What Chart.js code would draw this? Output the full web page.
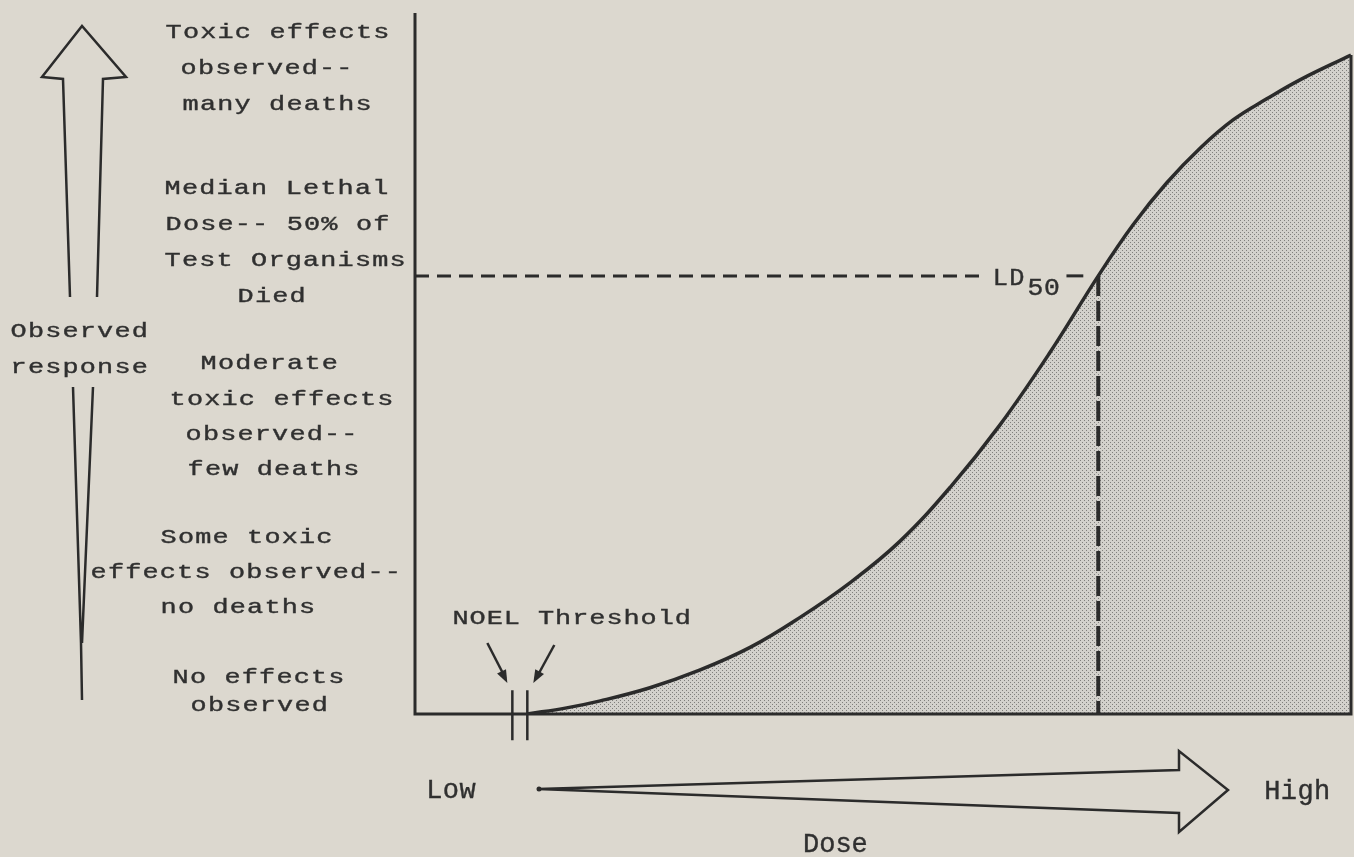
<!DOCTYPE html>
<html>
<head>
<meta charset="utf-8">
<title>Dose-response curve</title>
<script src="https://cdn.jsdelivr.net/npm/chart.js@4.4.1/dist/chart.umd.min.js"></script>
<style>
html,body{margin:0;padding:0;background:#dcd8cf;}
#wrap{position:relative;width:1354px;height:857px;}
</style>
</head>
<body>
<div id="wrap"><canvas id="chart"></canvas></div>
<script>
const doseValues=[12.0,16.2,19.8,25.1,30.4,35.8,41.1,46.5,51.8,57.2,62.5,67.8,73.0,76.7,80.3,83.9,87.4,91.0,94.6,100];
const responseValues=[0,0.7,1.5,3.0,5.0,7.6,11.0,15.0,19.7,25.9,33.0,41.2,50.0,55.8,60.6,64.6,67.8,70.2,72.4,75.2];
const ld50Dose=73.0, ld50Response=50;
const ld50Gap=[60.6,69.6,71.4]; // dashed line stops for the label, then a short dash
const noelDoses=[10.4,12.0];
const noelMarkSpan=[2.7,-3.0];
const doseMax=100, responseMax=80;

const responseLevels=[
  ['Toxic effects','observed--','many deaths'],
  ['Median Lethal','Dose-- 50% of','Test Organisms','Died'],
  ['Moderate','toxic effects','observed--','few deaths'],
  ['Some toxic','effects observed--','no deaths'],
  ['No effects','observed']
];
const yTitle=['Observed','response'];
const xTitle='Dose', xEnds=['Low','High'];
const noelLabel='NOEL Threshold';

const ink='#2b2b2b', textInk='#303030';
const mono='"Liberation Mono","DejaVu Sans Mono",monospace';

function stipple(){
  const c=document.createElement('canvas'); c.width=4; c.height=4;
  const g=c.getContext('2d');
  g.fillStyle='#d3d1cc'; g.fillRect(0,0,4,4);
  g.fillStyle='#807f7c'; g.fillRect(0,0,1,1); g.fillRect(2,2,1,1);
  return g.createPattern(c,'repeat');
}

// typewriter: fixed cell per character, glyphs a bit wider than the font's own
function typeLine(ctx,s,left,base,adv,sx){
  for(let i=0;i<s.length;i++){
    ctx.save();
    ctx.translate(left+adv/2-2+i*adv, base);
    ctx.scale(sx||1,1);
    ctx.fillText(s[i],0,0);
    ctx.strokeText(s[i],0,0);
    ctx.restore();
  }
}

// left x / baseline of each line of the level labels
const levelPos=[
  [[167,38],[182,74],[184,110]],
  [[166,194],[167,230],[166,266],[239,302]],
  [[202,369],[171,405],[187,440],[189,475]],
  [[162,543],[92,578],[162,613]],
  [[174,683],[192,711]]
];

function arrowHead(ctx,x0,y0,x1,y1,len,half){
  const a=Math.atan2(y1-y0,x1-x0);
  ctx.beginPath();
  ctx.moveTo(x1,y1);
  ctx.lineTo(x1-len*Math.cos(a)+half*Math.sin(a), y1-len*Math.sin(a)-half*Math.cos(a));
  ctx.lineTo(x1-len*Math.cos(a)-half*Math.sin(a), y1-len*Math.sin(a)+half*Math.cos(a));
  ctx.closePath(); ctx.fill();
}

const overlay={
  id:'overlay',
  afterDatasetsDraw(chart){
    const {ctx}=chart, xs=chart.scales.x, ys=chart.scales.y;
    ctx.save();
    ctx.strokeStyle=ink; ctx.fillStyle=ink; ctx.lineWidth=2.5; ctx.lineJoin='miter';

    // response arrow, upper part
    ctx.beginPath();
    ctx.moveTo(70,297); ctx.lineTo(63,79); ctx.lineTo(42,77); ctx.lineTo(82,26);
    ctx.lineTo(126,77); ctx.lineTo(103,79); ctx.lineTo(97,297);
    ctx.stroke();
    // lower part, narrowing to a point
    ctx.beginPath();
    ctx.moveTo(73,387); ctx.lineTo(81,643); ctx.lineTo(82,700);
    ctx.moveTo(93,387); ctx.lineTo(82,643);
    ctx.stroke();

    // dose arrow
    ctx.beginPath();
    ctx.moveTo(538,789); ctx.lineTo(1179,770); ctx.lineTo(1179,751); ctx.lineTo(1228,790);
    ctx.lineTo(1179,832); ctx.lineTo(1179,813); ctx.closePath();
    ctx.stroke();
    ctx.beginPath(); ctx.arc(539,789,2.5,0,Math.PI*2); ctx.fill();

    // NOEL arrows
    const n0=xs.getPixelForValue(noelDoses[0]), n1=xs.getPixelForValue(noelDoses[1]);
    ctx.beginPath(); ctx.moveTo(n0-25,643); ctx.lineTo(n0-7,678); ctx.stroke();
    arrowHead(ctx,n0-25,643,n0-5,683,13,5);
    ctx.beginPath(); ctx.moveTo(n1+27,645); ctx.lineTo(n1+9,678); ctx.stroke();
    arrowHead(ctx,n1+27,645,n1+6,683,13,5);

    // texts
    ctx.fillStyle=textInk; ctx.strokeStyle=textInk; ctx.lineWidth=0.4;
    ctx.textAlign='center'; ctx.textBaseline='alphabetic';
    ctx.font='21px '+mono;
    responseLevels.forEach((lines,b)=>lines.forEach((s,i)=>typeLine(ctx,s,levelPos[b][i][0],levelPos[b][i][1],17.3,1.28)));
    typeLine(ctx,yTitle[0],12,337,17.3,1.28);
    typeLine(ctx,yTitle[1],12,373,17.3,1.28);
    typeLine(ctx,noelLabel,454,624,17.1,1.28);

    ctx.font='27px '+mono;
    typeLine(ctx,xEnds[0],428,798,16.6,1);
    typeLine(ctx,xEnds[1],1266,799,16.6,1);
    typeLine(ctx,xTitle,805,852,16.2,1);

    const lx=xs.getPixelForValue(ld50Gap[0]), ly=ys.getPixelForValue(ld50Response);
    ctx.font='23px '+mono;
    typeLine(ctx,'LD',lx+12,ly+9,16.5,1.1);
    ctx.font='24px '+mono;
    typeLine(ctx,'50',lx+47,ly+19,16.5,1.1);
    ctx.restore();
  }
};

const curve=doseValues.map((x,i)=>({x,y:responseValues[i]}));
const frame=[{x:0,y:responseMax},{x:0,y:0},{x:doseMax,y:0},{x:doseMax,y:responseValues[responseValues.length-1]}];

new Chart(document.getElementById('chart'),{
  type:'scatter',
  data:{datasets:[
    {label:'Response',data:curve,showLine:true,borderColor:ink,borderWidth:3.5,backgroundColor:stipple(),
     fill:'origin',pointRadius:0,tension:0.4,order:0},
    {label:'Axes',data:frame,showLine:true,borderColor:ink,borderWidth:3,pointRadius:0,fill:false,clip:false,order:1},
    {label:'LD50 response',data:[{x:0,y:ld50Response},{x:ld50Gap[0],y:ld50Response}],showLine:true,
     borderColor:ink,borderWidth:3,borderDash:[14,8],pointRadius:0,order:2},
    {label:'LD50 tick',data:[{x:ld50Gap[1],y:ld50Response},{x:ld50Gap[2],y:ld50Response}],showLine:true,
     borderColor:ink,borderWidth:3,pointRadius:0,order:2},
    {label:'LD50 dose',data:[{x:ld50Dose,y:ld50Response},{x:ld50Dose,y:0}],showLine:true,
     borderColor:ink,borderWidth:4,borderDash:[20,5],pointRadius:0,order:2},
    {label:'NOEL',data:[{x:noelDoses[0],y:noelMarkSpan[0]},{x:noelDoses[0],y:noelMarkSpan[1]}],showLine:true,
     borderColor:ink,borderWidth:2.5,pointRadius:0,clip:false,order:3},
    {label:'Threshold',data:[{x:noelDoses[1],y:noelMarkSpan[0]},{x:noelDoses[1],y:noelMarkSpan[1]}],showLine:true,
     borderColor:ink,borderWidth:2.5,pointRadius:0,clip:false,order:3}
  ]},
  options:{
    responsive:true,maintainAspectRatio:false,animation:false,events:[],
    layout:{padding:{left:415,right:3,top:13,bottom:143}},
    scales:{
      x:{type:'linear',min:0,max:doseMax,display:false},
      y:{type:'linear',min:0,max:responseMax,display:false}
    },
    plugins:{legend:{display:false},tooltip:{enabled:false},filler:{drawTime:'beforeDatasetsDraw'}}
  },
  plugins:[overlay]
});
</script>
</body>
</html>
